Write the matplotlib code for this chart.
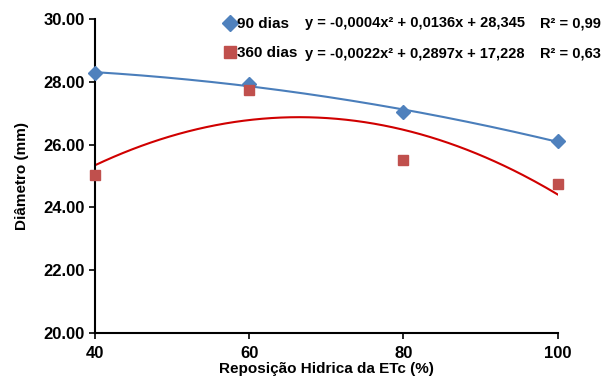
import numpy as np
import matplotlib
matplotlib.use("Agg")
import matplotlib.pyplot as plt

plt.rcParams['font.family'] = ['Liberation Sans', 'DejaVu Sans']
plt.rcParams['font.weight'] = 'bold'
plt.rcParams['axes.labelweight'] = 'bold'

reposicao = [40, 60, 80, 100]
dias90 = [28.28, 27.93, 27.04, 26.11]
dias360 = [25.02, 27.74, 25.51, 24.73]
eq90 = "y = -0,0004x² + 0,0136x + 28,345"
eq360 = "y = -0,0022x² + 0,2897x + 17,228"
r2_90 = "R² = 0,99"
r2_360 = "R² = 0,63"

fig = plt.figure(figsize=(6.01, 3.78), dpi=100)
ax = fig.add_axes([0.158, 0.119, 0.770, 0.831])

xs = np.linspace(40, 100, 200)
c90 = np.polyfit(reposicao, dias90, 2)
c360 = np.polyfit(reposicao, dias360, 2)
ax.plot(xs, np.polyval(c90, xs), color='#4a7ebb', lw=1.5)
ax.plot(xs, np.polyval(c360, xs), color='#d00000', lw=1.5)

h1, = ax.plot(reposicao, dias90, 'D', color='#4f81bd', ms=7, ls='none',
              label='90 dias', clip_on=False, zorder=4)
h2, = ax.plot(reposicao, dias360, 's', color='#c0504d', ms=7.5, ls='none',
              label='360 dias', clip_on=False, zorder=5)

ax.set_xlim(40, 100)
ax.set_ylim(20, 30)
ax.set_xticks(reposicao)
ax.set_yticks([20, 22, 24, 26, 28, 30])
ax.set_yticklabels(["%.2f" % v for v in [20, 22, 24, 26, 28, 30]])
ax.tick_params(labelsize=12, length=4, width=1.2, direction='out')
ax.tick_params(axis='x', pad=5)
for s in ['top', 'right']:
    ax.spines[s].set_visible(False)
for s in ['left', 'bottom']:
    ax.spines[s].set_linewidth(1.5)

ax.set_xlabel("Reposição Hidrica da ETc (%)", fontsize=11, labelpad=1)
ax.set_ylabel("Diâmetro (mm)", fontsize=11, labelpad=10)

leg = fig.legend(handles=[h1, h2], loc='center left', bbox_to_anchor=(0.375, 0.898),
                 frameon=False, fontsize=11, handlelength=0.6, handletextpad=0.15,
                 labelspacing=1.0, borderaxespad=0, borderpad=0, markerscale=1.2)

fig.text(0.507, 0.938, eq90, fontsize=10.5, va='center')
fig.text(0.507, 0.858, eq360, fontsize=10.5, va='center')
fig.text(0.898, 0.938, r2_90, fontsize=10.5, va='center')
fig.text(0.898, 0.858, r2_360, fontsize=10.5, va='center')

fig.savefig("out.png", dpi=100)
